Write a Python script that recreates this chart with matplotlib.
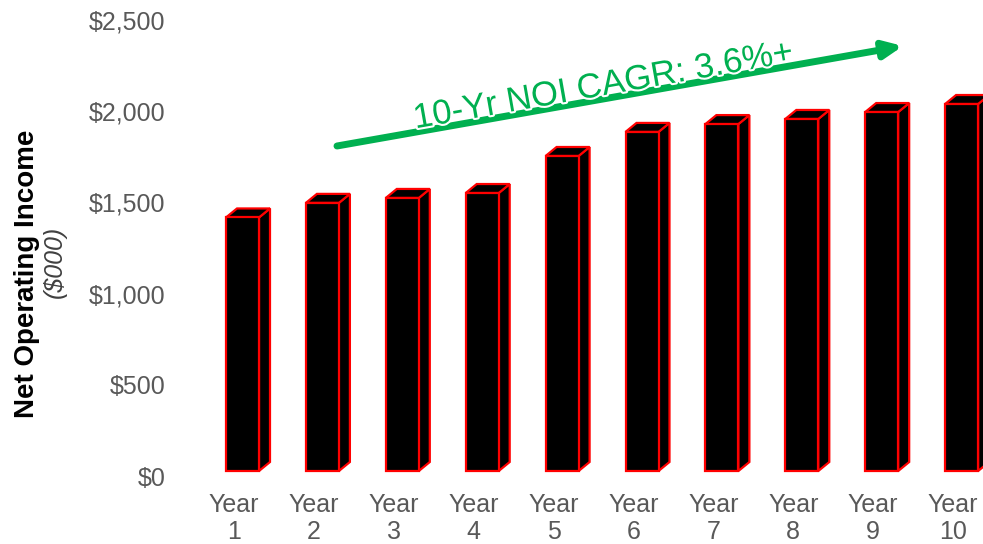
import matplotlib
matplotlib.use("Agg")
import matplotlib.pyplot as plt
import matplotlib.transforms as mtransforms
from matplotlib.patches import Rectangle, Polygon
import matplotlib.patheffects as pe

categories = ["Year\n1", "Year\n2", "Year\n3", "Year\n4", "Year\n5",
              "Year\n6", "Year\n7", "Year\n8", "Year\n9", "Year\n10"]
noi_values = [1390, 1470, 1497, 1524, 1727, 1859, 1902, 1930, 1968, 2012]
y_ticks = [0, 500, 1000, 1500, 2000, 2500]
y_ticklabels = ["$0", "$500", "$1,000", "$1,500", "$2,000", "$2,500"]
annotation = "10-Yr NOI CAGR: 3.6%+"

plt.rcParams['font.family'] = ['Liberation Sans', 'DejaVu Sans']

W, H = 983, 544
fig = plt.figure(figsize=(W / 100, H / 100), dpi=100)
ax = fig.add_axes([200 / W, (H - 471) / H, 783 / W, 456 / H])

# x mapping: tick i at pixel 234 + 79.9*i
px_per_cat = 79.9
ax.set_xlim(-34 / px_per_cat, (983 - 234) / px_per_cat)
ax.set_ylim(0, 2500)

w = 33 / px_per_cat
off = -8 / px_per_cat
dx = 11 / px_per_cat
dy = 9 / (456 / 2500)
red = "#FF0000"
lw = 1.6
for i, v in enumerate(noi_values):
    x0 = i + off
    front = Rectangle((x0, 0), w, v, facecolor="black", edgecolor=red, lw=lw,
                      joinstyle="miter", clip_on=False, zorder=3)
    side = Polygon([(x0 + w, 0), (x0 + w + dx, dy), (x0 + w + dx, v + dy), (x0 + w, v)],
                   closed=True, facecolor="black", edgecolor=red, lw=lw, clip_on=False, zorder=2)
    top = Polygon([(x0, v), (x0 + dx, v + dy), (x0 + w + dx, v + dy), (x0 + w, v)],
                  closed=True, facecolor="black", edgecolor=red, lw=lw, clip_on=False, zorder=2)
    ax.add_patch(side)
    ax.add_patch(top)
    ax.add_patch(front)

ax.set_xticks(range(len(categories)))
ax.set_xticklabels(categories, color="#595959", fontsize=18, linespacing=1.15)
ax.set_yticks(y_ticks)
ax.set_yticklabels(y_ticklabels, color="#595959", fontsize=18)
ax.tick_params(axis="both", length=0)
ax.tick_params(axis="y", pad=25)
ax.tick_params(axis="x", pad=16)
offset = mtransforms.ScaledTranslation(0, -5 / 100, fig.dpi_scale_trans)
for lab in ax.get_yticklabels():
    lab.set_transform(lab.get_transform() + offset)
for s in ax.spines.values():
    s.set_visible(False)

fig.text(27 / W, 1 - 274 / H, "Net Operating Income", rotation=90, fontsize=20,
         fontweight="bold", color="black", ha="center", va="center")
fig.text(55 / W, 1 - 262 / H, "($000)", rotation=90, fontsize=18, style="italic",
         color="#404040", ha="center", va="center")

# growth arrow
ax.annotate("", xy=(903 / W, 1 - 46 / H), xytext=(337 / W, 1 - 146 / H),
            xycoords="figure fraction", textcoords="figure fraction",
            arrowprops=dict(arrowstyle="-|>,head_length=1.1,head_width=0.5",
                            color="#00B050", lw=5, shrinkA=0, shrinkB=0))
fig.text(605 / W, 1 - 95 / H, annotation, rotation=10, fontsize=25, color="#00B050",
         ha="center", va="baseline", rotation_mode="anchor",
         path_effects=[pe.withStroke(linewidth=3, foreground="white")])

fig.savefig("out.png", dpi=100)
